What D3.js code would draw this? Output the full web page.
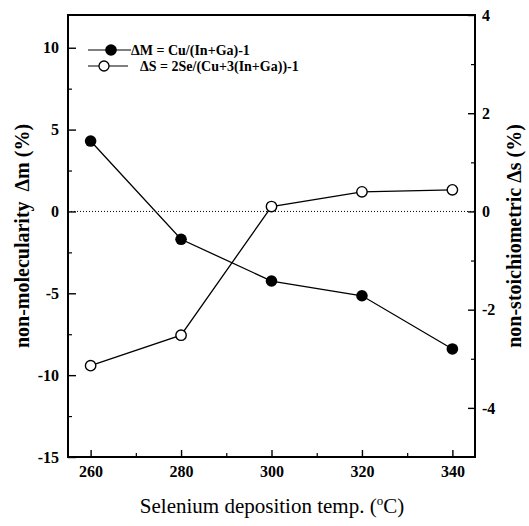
<!DOCTYPE html>
<html>
<head>
<meta charset="utf-8">
<script src="https://cdn.jsdelivr.net/npm/d3@7"></script>
<style>
body{margin:0;background:#fff;}
text{font-family:"Liberation Serif","Times New Roman",serif;}
</style>
</head>
<body>
<div class="chart"></div>
<script>
// temperatures (°C)
var temps=[260,280,300,320,340];
// ΔM, left axis (%)
var deltaM=[4.3,-1.7,-4.25,-5.15,-8.4];
// ΔS, right axis (%)
var deltaS=[-3.14,-2.52,0.1,0.4,0.44];
var xTicks=[260,280,300,320,340];
var leftTicks=[-15,-10,-5,0,5,10];
var rightTicks=[-4,-2,0,2,4];
var legendLabels=['ΔM = Cu/(In+Ga)-1','ΔS = 2Se/(Cu+3(In+Ga))-1'];

var width=529,height=526;
var pLeft=68,pRight=475,pTop=15,pBottom=457;

var svg=d3.select('div.chart').append('svg')
	.attr('width',width)
	.attr('height',height);

var x=d3.scaleLinear().domain([255,345]).range([pLeft,pRight]);
var yL=d3.scaleLinear().domain([-15,12]).range([pBottom,pTop]);
var yR=d3.scaleLinear().domain([-5,4]).range([pBottom,pTop]);

//零线
svg.append('line')
	.attr('x1',pLeft).attr('x2',pRight)
	.attr('y1',yL(0)).attr('y2',yL(0))
	.attr('stroke','#000')
	.attr('stroke-width',1)
	.attr('stroke-dasharray','1,2');

//minor ticks
function minor(axis,scale,vals,tr,size){
	svg.append('g')
		.attr('transform',tr)
		.call(axis(scale).tickValues(vals).tickSize(size).tickFormat(''))
		.call(function(g){g.select('.domain').remove();})
		.selectAll('line').attr('stroke-width',1.2);
}
minor(d3.axisBottom,x,[270,290,310,330],'translate(0,'+pBottom+')',-4);
minor(d3.axisLeft,yL,[-12.5,-7.5,-2.5,2.5,7.5],'translate('+pLeft+',0)',-4);
minor(d3.axisRight,yR,[-3,-1,1,3],'translate('+pRight+',0)',-4);

function styleAxis(g){
	g.select('.domain').remove();
	g.selectAll('line').attr('stroke-width',1.4);
	g.selectAll('text')
		.attr('font-family','"Liberation Serif",serif')
		.attr('font-weight','bold')
		.attr('font-size','16px')
		.attr('fill','#000');
}
var fmt=function(d){return String(d);};

svg.append('g')
	.attr('transform','translate(0,'+pBottom+')')
	.call(d3.axisBottom(x).tickValues(xTicks).tickFormat(fmt).tickSize(-7).tickPadding(9))
	.call(styleAxis);

svg.append('g')
	.attr('transform','translate('+pLeft+',0)')
	.call(d3.axisLeft(yL).tickValues(leftTicks).tickFormat(fmt).tickSize(-8).tickPadding(9))
	.call(styleAxis);

svg.append('g')
	.attr('transform','translate('+pRight+',0)')
	.call(d3.axisRight(yR).tickValues(rightTicks).tickFormat(fmt).tickSize(-7).tickPadding(7))
	.call(styleAxis);

//frame
svg.append('rect')
	.attr('x',pLeft).attr('y',pTop)
	.attr('width',pRight-pLeft).attr('height',pBottom-pTop)
	.attr('fill','none')
	.attr('stroke','#000')
	.attr('stroke-width',2);

//lines
var lineM=d3.line()
	.x(function(d,i){return x(temps[i]);})
	.y(function(d){return yL(d);});
var lineS=d3.line()
	.x(function(d,i){return x(temps[i]);})
	.y(function(d){return yR(d);});

svg.append('path').datum(deltaM)
	.attr('d',lineM).attr('fill','none')
	.attr('stroke','#000').attr('stroke-width',1.3);
svg.append('path').datum(deltaS)
	.attr('d',lineS).attr('fill','none')
	.attr('stroke','#000').attr('stroke-width',1.3);

svg.selectAll('.ptM').data(deltaM).enter()
	.append('circle').attr('class','ptM')
	.attr('cx',function(d,i){return x(temps[i]);})
	.attr('cy',function(d){return yL(d);})
	.attr('r',5.8)
	.attr('fill','#000');

svg.selectAll('.ptS').data(deltaS).enter()
	.append('circle').attr('class','ptS')
	.attr('cx',function(d,i){return x(temps[i]);})
	.attr('cy',function(d){return yR(d);})
	.attr('r',5.2)
	.attr('fill','#fff')
	.attr('stroke','#000')
	.attr('stroke-width',1.4);

//legend
var leg=svg.append('g');
leg.append('line').attr('x1',88).attr('x2',131).attr('y1',50).attr('y2',50)
	.attr('stroke','#000').attr('stroke-width',1.2);
leg.append('circle').attr('cx',111).attr('cy',50).attr('r',5.8).attr('fill','#000');
leg.append('text').attr('x',131).attr('y',55)
	.attr('font-weight','bold').attr('font-size','14px')
	.text(legendLabels[0]);
leg.append('line').attr('x1',88).attr('x2',128).attr('y1',66).attr('y2',66)
	.attr('stroke','#000').attr('stroke-width',1.2);
leg.append('circle').attr('cx',104).attr('cy',66).attr('r',5)
	.attr('fill','#fff').attr('stroke','#000').attr('stroke-width',1.3);
leg.append('text').attr('x',140).attr('y',71)
	.attr('font-weight','bold').attr('font-size','14px')
	.text(legendLabels[1]);

//axis titles
svg.append('text')
	.attr('transform','translate(29,236) rotate(-90)')
	.attr('text-anchor','middle')
	.attr('font-weight','bold')
	.attr('font-size','20px')
	.style('white-space','pre')
	.text('non-molecularity  Δm (%)');

svg.append('text')
	.attr('transform','translate(521,236) rotate(-90)')
	.attr('text-anchor','middle')
	.attr('font-weight','bold')
	.attr('font-size','20px')
	.text('non-stoichiometric Δs (%)');

var xt=svg.append('text')
	.attr('x',272).attr('y',513)
	.attr('text-anchor','middle')
	.attr('font-size','21px');
xt.append('tspan').text('Selenium deposition temp. (');
xt.append('tspan').attr('dy',-8).attr('font-size','13px').text('o');
xt.append('tspan').attr('dy',8).text('C)');
</script>
</body>
</html>
